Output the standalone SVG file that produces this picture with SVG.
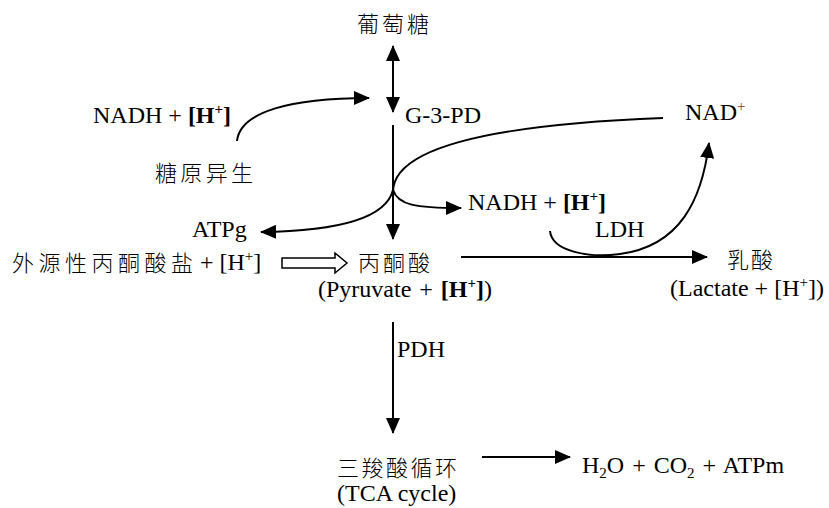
<svg xmlns="http://www.w3.org/2000/svg" width="829" height="508" viewBox="0 0 829 508">
<defs>
<style>
.t{font-size:24px;fill:#000}
.cjk{font-size:22px;font-weight:300}
.b{font-weight:bold}
.sup{font-size:15px}
.sub{font-size:15px}
.edge{fill:none;stroke:#000;stroke-width:2}
</style>
<marker id="ah" viewBox="0 0 16 14" markerWidth="16" markerHeight="14" refX="15" refY="7" orient="auto-start-reverse" markerUnits="userSpaceOnUse">
<path d="M0,0 L16,7 L0,14 z" fill="#000"/>
</marker>
</defs>
<rect width="829" height="508" fill="#fff"/>

<g id="connectors">
<line class="edge" x1="393" y1="46" x2="393" y2="112" marker-start="url(#ah)" marker-end="url(#ah)"/>
<path class="edge" d="M237,141 C240,112 290,98 369,98" marker-end="url(#ah)"/>
<line class="edge" x1="393" y1="125" x2="393" y2="239" marker-end="url(#ah)"/>
<path class="edge" d="M393,192 C393,150 480,125 663,118"/>
<path class="edge" d="M393,190 C386,218 340,231 261,232" marker-end="url(#ah)"/>
<path class="edge" d="M393,190 C398,205 415,208 461,208" marker-end="url(#ah)"/>
<line class="edge" x1="461" y1="257" x2="707" y2="257" marker-end="url(#ah)"/>
<path class="edge" d="M550,231 C552,252 590,258 620,254 C680,246 702,200 709,143" marker-end="url(#ah)"/>
<line class="edge" x1="393" y1="322" x2="393" y2="433" marker-end="url(#ah)"/>
<line class="edge" x1="482" y1="457" x2="570" y2="457" marker-end="url(#ah)"/>
<path d="M282,258 L335,258 L335,253 L347,263 L335,273 L335,268 L282,268 z" fill="#fff" stroke="#000" stroke-width="1.5"/>
</g>

<g font-family="'Noto Sans CJK SC', 'Noto Sans CJK JP', sans-serif">
<g id="glucose"><text class="t cjk" x="357" y="32" textLength="72" lengthAdjust="spacing">葡萄糖</text></g>
<g id="gluconeogenesis"><text class="t cjk" x="155" y="181" textLength="98" lengthAdjust="spacing">糖原异生</text></g>
<g id="exo-pyruvate-cjk"><text class="t cjk" x="12" y="271" textLength="181" lengthAdjust="spacing">外源性丙酮酸盐</text></g>
<g id="pyruvate-cjk"><text class="t cjk" x="358" y="271" textLength="72" lengthAdjust="spacing">丙酮酸</text></g>
<g id="lactate-cjk"><text class="t cjk" x="727" y="268" textLength="46" lengthAdjust="spacing">乳酸</text></g>
<g id="tca-cjk"><text class="t cjk" x="337" y="476" textLength="120" lengthAdjust="spacing">三羧酸循环</text></g>
</g>

<g font-family="'Liberation Serif', serif">
<g id="nadh-left"><text class="t" x="93" y="123">NADH + <tspan class="b">[H<tspan class="sup" dy="-9">+</tspan><tspan dy="9">]</tspan></tspan></text></g>
<g id="g3pd"><text class="t" x="405" y="123">G-3-PD</text></g>
<g id="nad"><text class="t" x="685" y="120">NAD<tspan class="sup" dy="-9" fill="#8b3a2a">+</tspan></text></g>
<g id="nadh-right"><text class="t" x="468" y="210">NADH + <tspan class="b">[H<tspan class="sup" dy="-9">+</tspan><tspan dy="9">]</tspan></tspan></text></g>
<g id="atpg"><text class="t" x="192" y="237">ATPg</text></g>
<g id="ldh"><text class="t" x="595" y="237">LDH</text></g>
<g id="exo-pyruvate"><text class="t" x="200" y="270">+ [H<tspan class="sup" dy="-9">+</tspan><tspan dy="9">]</tspan></text></g>
<g id="pyruvate"><text class="t" x="318" y="297" word-spacing="2">(Pyruvate + <tspan class="b">[H<tspan class="sup" dy="-9">+</tspan><tspan dy="9">]</tspan></tspan>)</text></g>
<g id="lactate"><text class="t" x="670" y="296">(Lactate + [H<tspan class="sup" dy="-9">+</tspan><tspan dy="9">])</tspan></text></g>
<g id="pdh"><text class="t" x="397" y="357">PDH</text></g>
<g id="tca"><text class="t" x="337" y="501">(TCA cycle)</text></g>
<g id="products"><text class="t" x="582" y="473" word-spacing="2">H<tspan class="sub" dy="5">2</tspan><tspan dy="-5">O + CO</tspan><tspan class="sub" dy="5">2</tspan><tspan dy="-5"> + ATPm</tspan></text></g>
</g>
</svg>
